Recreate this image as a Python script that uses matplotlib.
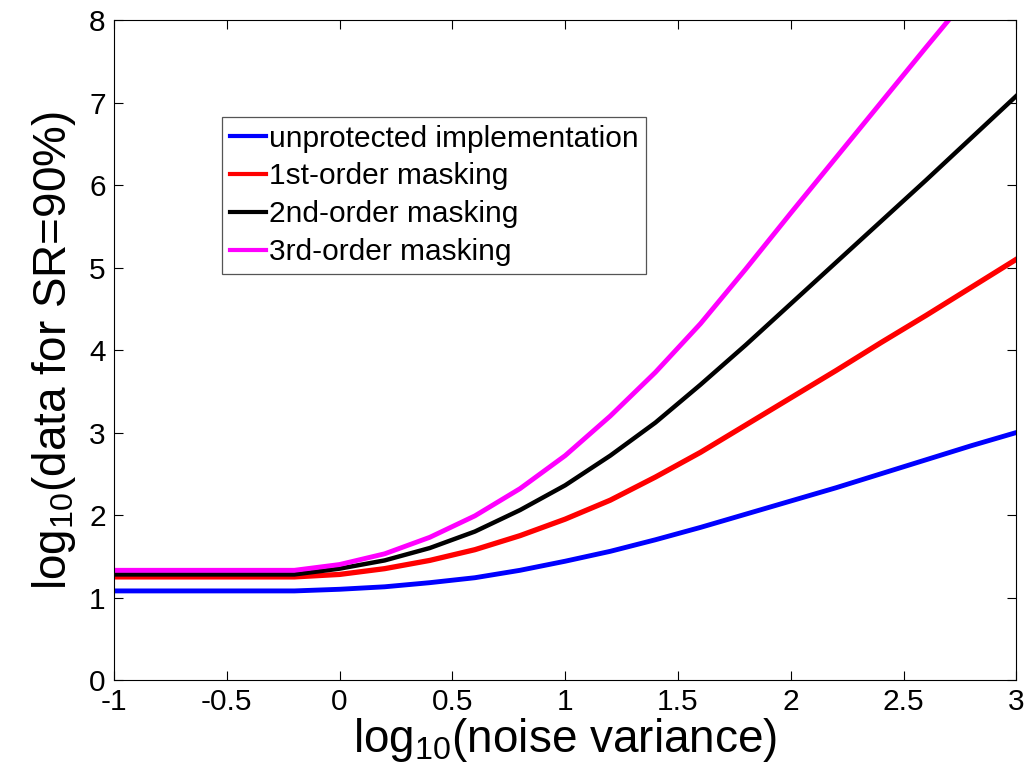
import matplotlib
matplotlib.use("Agg")
from matplotlib import pyplot as plt

# log10(noise variance) grid, step 0.2
noise = [-1.0, -0.8, -0.6, -0.4, -0.2, 0.0, 0.2, 0.4, 0.6, 0.8, 1.0,
         1.2, 1.4, 1.6, 1.8, 2.0, 2.2, 2.4, 2.6, 2.8, 3.0]

unprotected = [1.08, 1.08, 1.08, 1.08, 1.08, 1.10, 1.13, 1.18, 1.24, 1.33, 1.44,
               1.56, 1.70, 1.85, 2.01, 2.17, 2.33, 2.50, 2.67, 2.84, 3.00]
order1 = [1.25, 1.25, 1.25, 1.25, 1.25, 1.28, 1.35, 1.45, 1.58, 1.75, 1.95,
          2.18, 2.46, 2.76, 3.09, 3.42, 3.75, 4.09, 4.42, 4.76, 5.10]
order2 = [1.28, 1.28, 1.28, 1.28, 1.28, 1.35, 1.45, 1.60, 1.80, 2.06, 2.36,
          2.72, 3.12, 3.58, 4.06, 4.56, 5.06, 5.56, 6.06, 6.57, 7.08]
order3 = [1.33, 1.33, 1.33, 1.33, 1.33, 1.40, 1.53, 1.73, 1.99, 2.32, 2.72,
          3.20, 3.73, 4.32, 4.98, 5.66, 6.33, 7.00, 7.67, 8.33, 9.00]

labels = ['unprotected implementation', '1st-order masking',
          '2nd-order masking', '3rd-order masking']

plt.rcParams['font.family'] = ['Liberation Sans', 'DejaVu Sans']
plt.rcParams['mathtext.default'] = 'regular'

fig = plt.figure(figsize=(10.36, 7.81), dpi=100)
ax = fig.add_axes([0.110, 0.1293, 0.871, 0.845])

ax.plot(noise, unprotected, color=(0, 0, 1), lw=3.5, label=labels[0])
ax.plot(noise, order1, color=(1, 0, 0), lw=3.8, label=labels[1])
ax.plot(noise, order2, color='black', lw=3.2, label=labels[2])
ax.plot(noise, order3, color=(1, 0, 1), lw=3.5, label=labels[3])

ax.set_xlim(-1, 3)
ax.set_ylim(0, 8)
ax.set_xticks([-1, -0.5, 0, 0.5, 1, 1.5, 2, 2.5, 3])
ax.set_xticklabels(['-1', '-0.5', '0', '0.5', '1', '1.5', '2', '2.5', '3'])
ax.set_yticks(range(0, 9))

ax.tick_params(direction='in', length=6.5, width=0.8, top=True, right=True,
               labelsize=21.5, pad=6)
for s in ax.spines.values():
    s.set_linewidth(0.8)

ax.set_xlabel('log$_{10}$(noise variance)', fontsize=33, labelpad=0)
ax.set_ylabel('log$_{10}$(data for SR=90%)', fontsize=33, labelpad=8)

leg = ax.legend(loc='upper left', bbox_to_anchor=(0.12, 0.853),
                borderaxespad=0, fontsize=21.5, handlelength=1.2,
                handletextpad=0.1, labelspacing=0.33, borderpad=0.25,
                fancybox=False, framealpha=1, edgecolor='#555555')
leg.get_frame().set_linewidth(0.9)
for h in leg.get_lines():
    h.set_linewidth(3)

fig.savefig('out.png', dpi=100)
